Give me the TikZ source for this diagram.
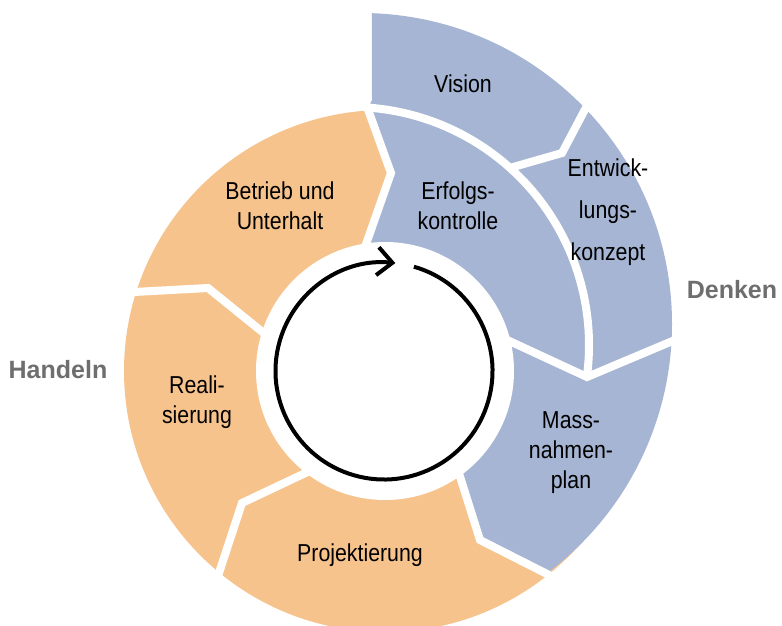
\documentclass[tikz,border=0pt]{standalone}
\usepackage{fontspec}
\setmainfont[FakeStretch=0.87]{Liberation Sans}
\newfontfamily\phasefont{Liberation Sans}
\usetikzlibrary{arrows.meta}
\definecolor{denkblue}{RGB}{165,181,211}
\definecolor{handelorange}{RGB}{247,195,141}
\definecolor{phasegray}{RGB}{110,110,110}

\begin{document}
\begin{tikzpicture}[x=1pt,y=-1pt,>=latex]
\tikzset{
steplabel/.style={
  align=center,
  inner sep=0pt,
  font=\fontsize{24.5}{30}\selectfont
  },
phaselabel/.style={
  inner sep=0pt,
  text=phasegray,
  font=\phasefont\bfseries\fontsize{25}{30}\selectfont
  },
gap/.style={white, line width=8pt}
}

\useasboundingbox (0,0) rectangle (782,626);
\clip (0,0) rectangle (782,626);

\coordinate (O) at (385,371);   % ring centre
\coordinate (B) at (361,324);   % outer edge of the blue part
\coordinate (E) at (351,345);   % inner edge of vision / concept
\coordinate (C) at (384,371);   % cycle arrow

% ring and blue part
\fill[handelorange] (O) circle[radius=261pt];
\fill[denkblue] ([shift={(-88:311)}]B) arc[start angle=-88, end angle=53.4, radius=311]
  -- (480,540) -- (460,476) -- (O) -- (368,239) -- (391,173) -- (367,111) -- (372,100) -- cycle;

% white gaps between the steps
\draw[gap] (366,104) -- (391,173) -- (364,250);
\draw[gap] (125,292.5) -- (208,288) -- (268,336.5);
\draw[gap] (316,468) -- (242,503) -- (217,579);
\draw[gap] (457,467) -- (480,540) -- (552,576.5);
\draw[gap] (505,339) -- (587,377) -- (682,337);
\draw[gap] (508,168.5) -- (562,153) -- (590,100);
\draw[gap] ([shift={(-86:238)}]E) arc[start angle=-86, end angle=8, radius=238];

\fill[white] (O) circle[radius=129pt];
\draw[line width=4pt, -{Straight Barb[length=15pt, width=28pt]}]
  ([shift={(-74:108.5)}]C) arc[start angle=-74, end angle=276, radius=108.5];

\node[steplabel] (vision) at (463,84) {Vision};
\node[steplabel] (erfolg) at (458,206) {Erfolgs-\\kontrolle};
\node[steplabel, font=\fontsize{24.5}{42}\selectfont] (konzept) at (608,212) {Entwick-\\lungs-\\konzept};
\node[steplabel] (massnahmen) at (571,453) {Mass-\\nahmen-\\plan};
\node[steplabel] (projekt) at (360,555) {Projektierung};
\node[steplabel] (real) at (197,402) {Reali-\\sierung};
\node[steplabel] (betrieb) at (280,206) {Betrieb und\\Unterhalt};

\node[phaselabel] (denken) at (732,290) {Denken};
\node[phaselabel] (handeln) at (58,370) {Handeln};

\end{tikzpicture}
\end{document}
